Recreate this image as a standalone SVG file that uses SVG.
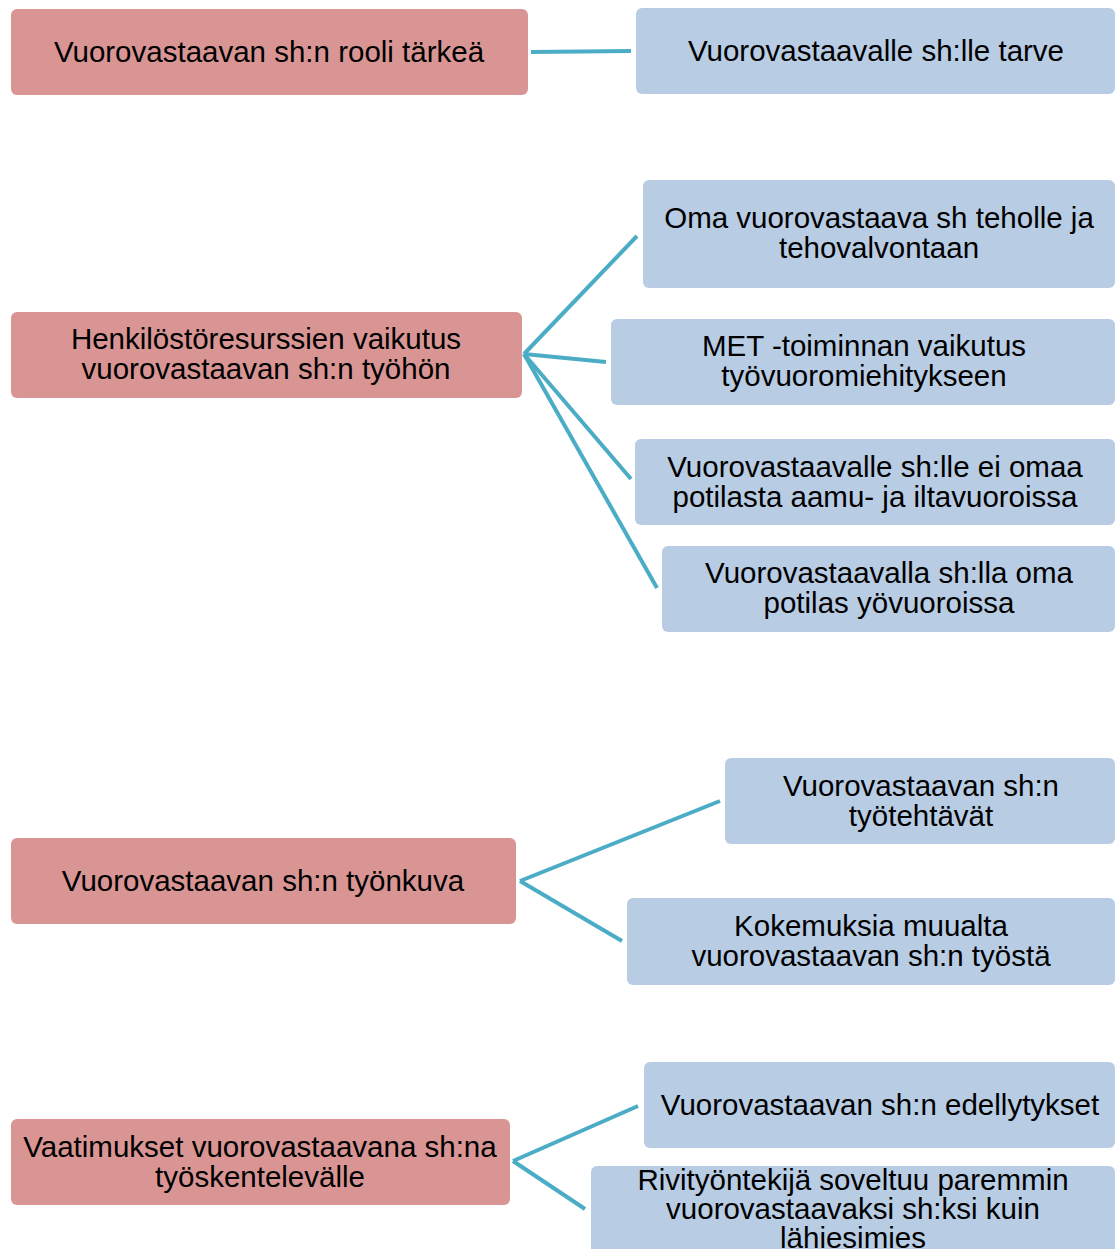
<svg xmlns="http://www.w3.org/2000/svg" width="1116" height="1249" viewBox="0 0 1116 1249">
  <style>
    .main { fill: #D99594; }
    .sub { fill: #B8CCE4; }
    text { font-family: "Liberation Sans", Arial, sans-serif; font-size: 29.5px; fill: #000; text-anchor: middle; }
    .conn line { stroke: #4BACC6; stroke-width: 4; stroke-linecap: butt; }
  </style>
  <rect width="1116" height="1249" fill="#fff"/>

  <g class="conn" id="connectors">
    <line x1="531" y1="52" x2="631" y2="51"/>
    <line x1="524" y1="354" x2="637" y2="236"/>
    <line x1="524" y1="354" x2="606" y2="362"/>
    <line x1="524" y1="354" x2="631" y2="479"/>
    <line x1="524" y1="354" x2="657" y2="588"/>
    <line x1="520" y1="881" x2="720" y2="801"/>
    <line x1="520" y1="881" x2="622" y2="941"/>
    <line x1="513" y1="1161" x2="638" y2="1106"/>
    <line x1="513" y1="1161" x2="585" y2="1209"/>
  </g>

  <g id="m1"><rect class="main" x="11" y="9" width="517" height="86" rx="6"/>
    <text x="269" y="62">Vuorovastaavan sh:n rooli tärkeä</text></g>
  <g id="m2"><rect class="main" x="11" y="312" width="511" height="86" rx="6"/>
    <text x="266" y="349">Henkilöstöresurssien vaikutus</text>
    <text x="266" y="379">vuorovastaavan sh:n työhön</text></g>
  <g id="m3"><rect class="main" x="11" y="838" width="505" height="86" rx="6"/>
    <text x="263" y="891">Vuorovastaavan sh:n työnkuva</text></g>
  <g id="m4"><rect class="main" x="11" y="1119" width="499" height="86" rx="6"/>
    <text x="260" y="1157">Vaatimukset vuorovastaavana sh:na</text>
    <text x="260" y="1187">työskentelevälle</text></g>

  <g id="s1"><rect class="sub" x="636" y="8" width="479" height="86" rx="6"/>
    <text x="876" y="61">Vuorovastaavalle sh:lle tarve</text></g>
  <g id="s2"><rect class="sub" x="643" y="180" width="472" height="108" rx="6"/>
    <text x="879" y="228">Oma vuorovastaava sh teholle ja</text>
    <text x="879" y="258">tehovalvontaan</text></g>
  <g id="s3"><rect class="sub" x="611" y="319" width="504" height="86" rx="6"/>
    <text x="864" y="356">MET -toiminnan vaikutus</text>
    <text x="864" y="386">työvuoromiehitykseen</text></g>
  <g id="s4"><rect class="sub" x="635" y="439" width="480" height="86" rx="6"/>
    <text x="875" y="477">Vuorovastaavalle sh:lle ei omaa</text>
    <text x="875" y="507">potilasta aamu- ja iltavuoroissa</text></g>
  <g id="s5"><rect class="sub" x="662" y="546" width="453" height="86" rx="6"/>
    <text x="889" y="583">Vuorovastaavalla sh:lla oma</text>
    <text x="889" y="613">potilas yövuoroissa</text></g>
  <g id="s6"><rect class="sub" x="725" y="758" width="390" height="86" rx="6"/>
    <text x="921" y="796">Vuorovastaavan sh:n</text>
    <text x="921" y="826">työtehtävät</text></g>
  <g id="s7"><rect class="sub" x="627" y="898" width="488" height="87" rx="6"/>
    <text x="871" y="936">Kokemuksia muualta</text>
    <text x="871" y="966">vuorovastaavan sh:n työstä</text></g>
  <g id="s8"><rect class="sub" x="644" y="1062" width="471" height="86" rx="6"/>
    <text x="880" y="1115">Vuorovastaavan sh:n edellytykset</text></g>
  <g id="s9"><rect class="sub" x="591" y="1166" width="524" height="100" rx="6"/>
    <text x="853" y="1190">Rivityöntekijä soveltuu paremmin</text>
    <text x="853" y="1219">vuorovastaavaksi sh:ksi kuin</text>
    <text x="853" y="1248">lähiesimies</text></g>
</svg>
